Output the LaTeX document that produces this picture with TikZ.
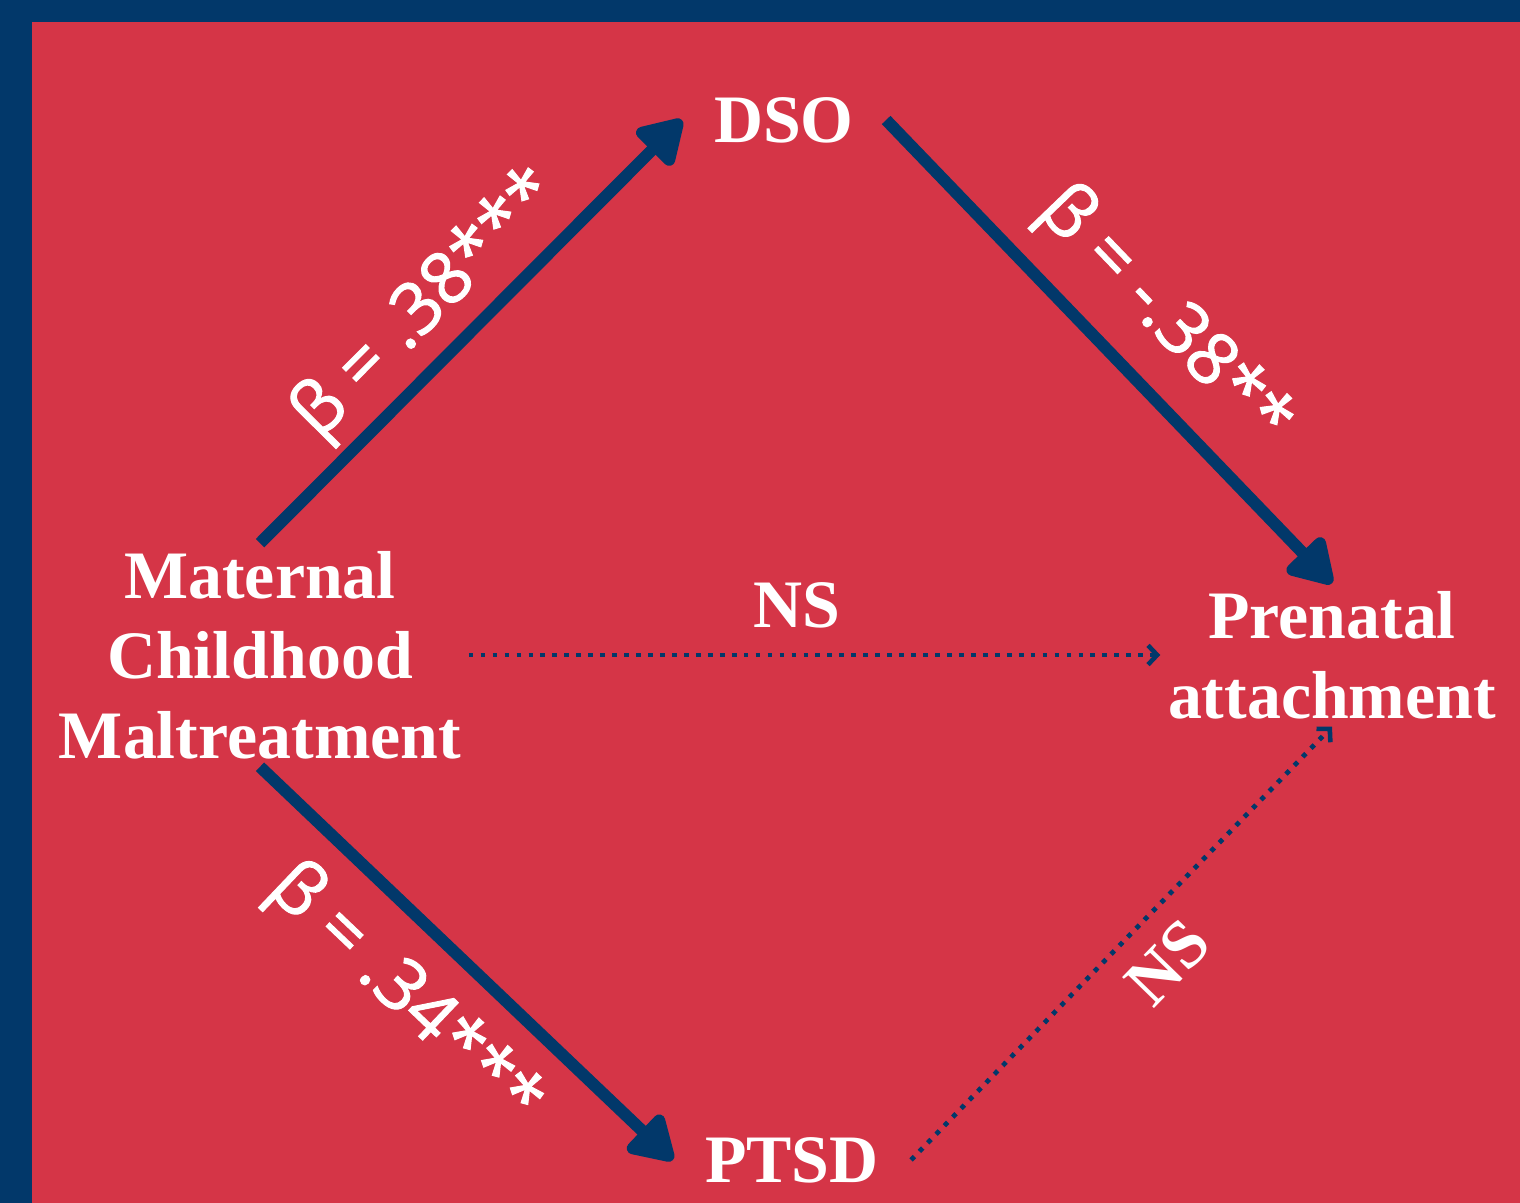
\documentclass[tikz,border=0pt]{standalone}
\usepackage{fontspec}
\setmainfont{Liberation Serif}
\newfontfamily\betafont{Open Sans}[FakeBold=1.4]
\usepackage{xcolor}
\usepackage{tikz}
\usetikzlibrary{arrows.meta, positioning}

\definecolor{navyblue}{HTML}{02386A}
\definecolor{panelred}{HTML}{D53547}

\tikzset{
  varbox/.style={text=white, font=\bfseries\fontsize{19.3}{22.8}\selectfont, align=center, inner sep=2pt},
  solidarrow/.style={draw=navyblue, line width=3.4pt, -{Triangle[length=14pt,width=16pt,round]}},
  dotarrow/.style={draw=navyblue, line width=1.35pt, dash pattern=on 1.35pt off 2.05pt, -{Straight Barb[length=2.6pt,width=5.5pt,line width=1.3pt]}},
  betalabel/.style={text=white, font=\betafont\fontsize{20.5}{24}\selectfont, sloped, inner sep=0pt},
  nslabel/.style={text=white, font=\bfseries\fontsize{19.3}{22.8}\selectfont, inner sep=0pt}
}

\begin{document}
\begin{tikzpicture}[x=0.01cm, y=-0.01cm]
  % frame
  \fill[navyblue] (0,0) rectangle (1520,1203);
  \fill[panelred] (32,22) rectangle (1520,1203);
  \useasboundingbox (0,0) rectangle (1520,1203);

  % variables
  \node[varbox] (mcm) at (260,655) {Maternal\\Childhood\\Maltreatment};
  \node[varbox, inner xsep=9pt] (dso) at (784,120) {DSO};
  \node[varbox, inner xsep=9pt] (ptsd) at (792,1160) {PTSD};
  \node[varbox] (pa) at (1332,655) {Prenatal\\attachment};

  % paths
  \draw[solidarrow] (mcm.north) -- node[betalabel, pos=0.48, above=2pt] {β = .38***} (dso.west);
  \draw[solidarrow] (dso.east) -- node[betalabel, pos=0.52, above=6pt] {β = -.38**} (pa.north);
  \draw[solidarrow] (mcm.south) -- node[betalabel, pos=0.46, below=7pt] {β = .34***} (ptsd.west);
  \draw[dotarrow] (mcm.east) -- node[nslabel, pos=0.475, above=7pt] {NS} (pa.west);
  \draw[dotarrow] (ptsd.east) -- node[nslabel, sloped, pos=0.53, below=6pt] {NS} (pa.south);
\end{tikzpicture}
\end{document}
